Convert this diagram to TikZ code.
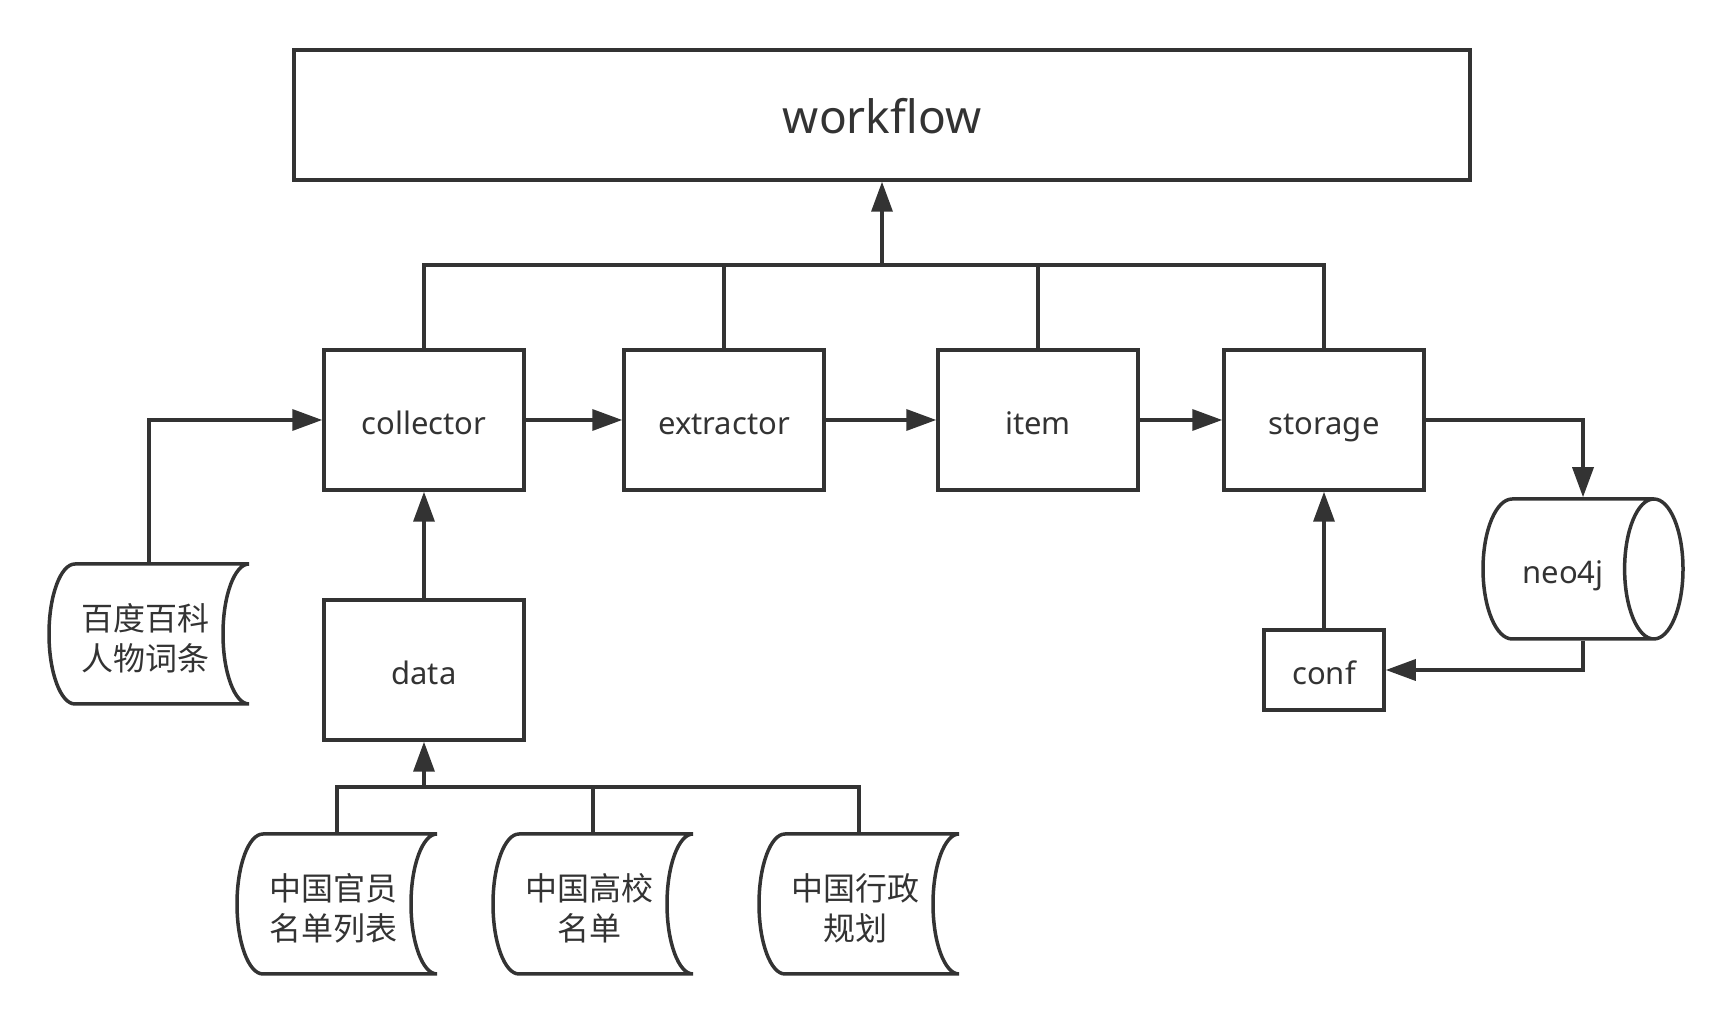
\documentclass[tikz,border=0pt]{standalone}
\usepackage{fontspec}
\setmainfont{Noto Sans}
\newfontfamily\cjk{Noto Sans CJK SC}
\usetikzlibrary{arrows.meta,calc,shapes.geometric}

\definecolor{ink}{HTML}{333333}

\tikzset{
  module/.style={
    draw,
    minimum width=200pt,
    minimum height=140pt,
    text height=36pt,
    text depth=6pt,
    font=\fontsize{31pt}{38pt}\selectfont,
  },
  config/.style={
    module,
    minimum width=120pt,
    minimum height=80pt,
  },
  source/.style={
    minimum width=200pt,
    minimum height=140pt,
    outer sep=0pt,
    align=center,
    font=\cjk\fontsize{32pt}{40pt}\selectfont,
  },
  database/.style={
    cylinder,
    draw,
    aspect=1.2,
    minimum width=140pt,
    minimum height=200pt,
    text height=36pt,
    text depth=6pt,
    font=\fontsize{31pt}{38pt}\selectfont,
  },
  feed/.style={
    -{Triangle[length=30pt,width=21pt]},
  },
}

\begin{document}
\begin{tikzpicture}[x=1pt, y=1pt, line width=3.5pt, color=ink]

  \useasboundingbox (0,0) rectangle (1734,1024);

  \node[module, minimum width=1176pt, minimum height=130pt,
    text height=44pt, text depth=6pt,
    font=\fontsize{46pt}{52pt}\selectfont] (workflow) at (882,909) {workflow};

  \node[module] (collector) at (424,604) {collector};
  \node[module] (extractor) at (724,604) {extractor};
  \node[module] (item) at (1038,604) {item};
  \node[module] (storage) at (1324,604) {storage};
  \node[module] (data) at (424,354) {data};
  \node[config] (conf) at (1324,354) {conf};
  \node[database, anchor=shape center] (neo4j) at (1583,455) {neo4j};

  \node[source] (baike) at (149,390) {};
  \node[source] (guanyuan) at (337,120) {};
  \node[source] (gaoxiao) at (593,120) {};
  \node[source] (xingzheng) at (859,120) {};

  \foreach \n/\t in {baike/百度百科\\人物词条,guanyuan/中国官员\\名单列表,
                     gaoxiao/中国高校\\名单,xingzheng/中国行政\\规划} {
    \draw ($(\n.north west)+(26,0)$) -- (\n.north east)
      arc[start angle=90, end angle=270, x radius=26, y radius=70]
      -- ($(\n.south west)+(26,0)$)
      arc[start angle=270, end angle=90, x radius=26, y radius=70]
      -- cycle;
    \node[source, minimum size=0pt] (\n-label) at ($(\n)+(-4,-4)$) {\t};
  }

  \coordinate (bus) at (882,759);
  \coordinate (join) at (424,237);

  \draw (collector.north) |- (bus) -| (storage.north);
  \foreach \n in {extractor,item}
    \draw (\n.north) -- (\n.north |- bus);
  \draw[feed] (bus) -- (workflow);

  \foreach \a/\b in {collector/extractor,extractor/item,item/storage}
    \draw[feed] (\a) -- (\b);

  \draw[feed] (baike.north) |- (collector);
  \draw[feed] (data) -- (collector);

  \draw (guanyuan.north) |- (join) -| (xingzheng.north);
  \draw (gaoxiao.north) -- (gaoxiao.north |- join);
  \draw[feed] (join) -- (data);

  \draw[feed] (storage) -| (neo4j.shape center |- neo4j.north);
  \draw[feed] (neo4j.shape center |- neo4j.south) |- (conf);
  \draw[feed] (conf) -- (storage);

\end{tikzpicture}
\end{document}
